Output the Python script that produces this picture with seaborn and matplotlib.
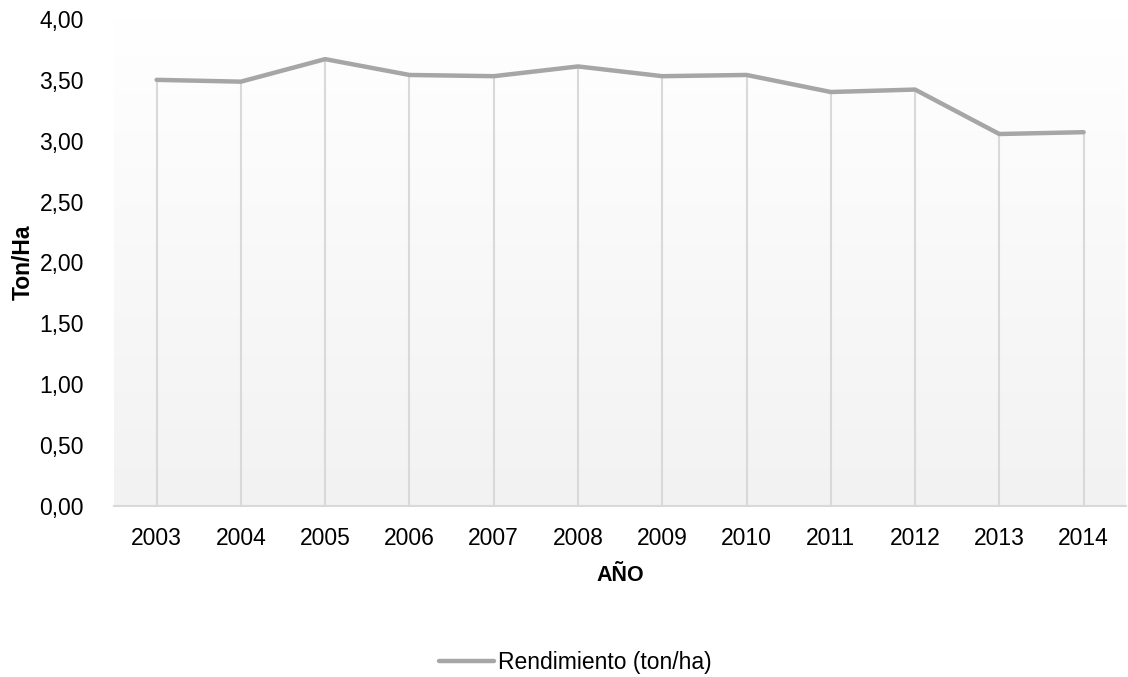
import numpy as np
import pandas as pd
import matplotlib
matplotlib.use("Agg")
import matplotlib.pyplot as plt
from matplotlib.ticker import FuncFormatter
from matplotlib.colors import LinearSegmentedColormap
import seaborn as sns

years = [2003, 2004, 2005, 2006, 2007, 2008, 2009, 2010, 2011, 2012, 2013, 2014]
rendimiento = [3.50, 3.485, 3.67, 3.54, 3.53, 3.61, 3.53, 3.54, 3.40, 3.42, 3.055, 3.07]
y_ticks = [0.0, 0.5, 1.0, 1.5, 2.0, 2.5, 3.0, 3.5, 4.0]

df = pd.DataFrame({"year": years, "rend": rendimiento})

sns.set_style("white")
plt.rcParams['font.family'] = ['Liberation Sans', 'DejaVu Sans']
plt.rcParams['text.color'] = 'black'
plt.rcParams['xtick.color'] = 'black'
plt.rcParams['ytick.color'] = 'black'
plt.rcParams['axes.labelcolor'] = 'black'

fig = plt.figure(figsize=(11.28, 6.77), dpi=100)
ax = fig.add_axes([0.1015, 0.2526, 0.8965, 0.7194])

# gradient background of the plot area
grad = np.linspace(0, 1, 256).reshape(-1, 1)
cmap = LinearSegmentedColormap.from_list("bg", ["#ffffff", "#f2f2f2"])
ax.imshow(grad, cmap=cmap, aspect="auto", extent=[0, 1, 0, 1],
          transform=ax.transAxes, zorder=0, origin="upper")

# drop lines
ax.vlines(df["year"], 0, df["rend"], color="#d9d9d9", linewidth=1.5, zorder=1)

sns.lineplot(data=df, x="year", y="rend", ax=ax, color="#a6a6a6", linewidth=3.2,
             label="Rendimiento (ton/ha)", zorder=3, legend=False)

ax.set_xlim(years[0] - 0.5, years[-1] + 0.5)
ax.set_ylim(0, 4.0)
ax.set_xticks(years)
ax.set_yticks(y_ticks)
ax.yaxis.set_major_formatter(FuncFormatter(lambda v, p: f"{v:.2f}".replace(".", ",")))
ax.tick_params(axis="both", length=0, labelsize=16.5)
ax.tick_params(axis="y", pad=22)
ax.tick_params(axis="x", pad=15)

for s in ["top", "right", "left"]:
    ax.spines[s].set_visible(False)
ax.spines["bottom"].set_color("#d9d9d9")
ax.spines["bottom"].set_linewidth(1.5)

ax.set_xlabel("AÑO", fontsize=15.5, fontweight="bold")
ax.set_ylabel("Ton/Ha", fontsize=16.5, fontweight="bold")
ax.xaxis.set_label_coords(0.5, -0.121)
ax.yaxis.set_label_coords(-0.079, 0.5)

handles, labels = ax.get_legend_handles_labels()
fig.legend(handles, labels, loc="center", bbox_to_anchor=(0.51, 0.021), frameon=False,
           fontsize=16.5, handlelength=2.4, handletextpad=0.2)

fig.savefig("out.png", dpi=100)
